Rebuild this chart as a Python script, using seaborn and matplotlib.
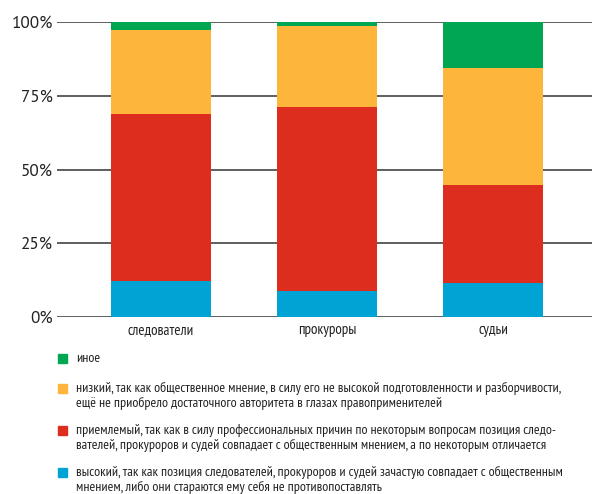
import matplotlib
matplotlib.use("Agg")
import matplotlib.pyplot as plt
import seaborn as sns
from matplotlib.patches import Rectangle

categories = ["следователи", "прокуроры", "судьи"]
series_names = [
    "высокий, так как позиция следователей, прокуроров и судей зачастую совпадает с общественным\nмнением, либо они стараются ему себя не противопоставлять",
    "приемлемый, так как в силу профессиональных причин по некоторым вопросам позиция следо-\nвателей, прокуроров и судей совпадает с общественным мнением, а по некоторым отличается",
    "низкий, так как общественное мнение, в силу его не высокой подготовленности и разборчивости,\nещё не приобрело достаточного авторитета в глазах правоприменителей",
    "иное",
]
vysokiy = [12.2, 8.8, 11.5]
priemlemyy = [56.7, 62.4, 33.3]
nizkiy = [28.5, 27.5, 39.6]
inoe = [2.6, 1.3, 15.6]
colors = ["#00a3d4", "#dc2d1e", "#fdb53c", "#00a651"]
yticks = [0, 25, 50, 75, 100]

sns.set_style("white")
narrow = ["PT Sans Narrow", "DejaVu Sans"]
plt.rcParams["font.family"] = narrow

W, H = 592, 494
fig = plt.figure(figsize=(W / 100, H / 100), dpi=100)
ax = fig.add_axes([57 / W, 1 - 317 / H, 1 - 57 / W, 295 / H])

bottom = [0, 0, 0]
for vals, c in zip([vysokiy, priemlemyy, nizkiy, inoe], colors):
    sns.barplot(x=categories, y=vals, bottom=bottom, color=c, width=0.6,
                saturation=1, ax=ax, zorder=3, linewidth=0)
    bottom = [b + v for b, v in zip(bottom, vals)]

ax.set_ylim(0, 100)
ax.set_xlim(-0.627, 2.596)
ax.set_yticks(yticks)
ax.set_yticklabels([f"{t}%" for t in yticks], fontsize=12.3, color="#222222",
                   family=["PT Sans", "DejaVu Sans"])
ax.yaxis.grid(True, color="#333333", linewidth=1.1, zorder=0)
ax.set_axisbelow(True)
ax.tick_params(axis="y", length=0, pad=3)
ax.tick_params(axis="x", length=0, pad=4, labelsize=10.8, labelcolor="#222222")
for s in ax.spines.values():
    s.set_visible(False)
ax.set_xlabel("")
ax.set_ylabel("")

# legend below the chart
rows = [358, 388, 430, 472]
for name, c, y in zip(series_names[::-1], colors[::-1], rows):
    fig.patches.append(Rectangle((58 / W, 1 - (y + 4.5) / H), 9 / W, 9 / H,
                                 transform=fig.transFigure, color=c))
    for k, line in enumerate(name.split("\n")):
        fig.text(76 / W, 1 - (y + 15 * k) / H, line, fontsize=10.0,
                 color="#222222", va="center", ha="left")

fig.savefig("out.png", dpi=100)
